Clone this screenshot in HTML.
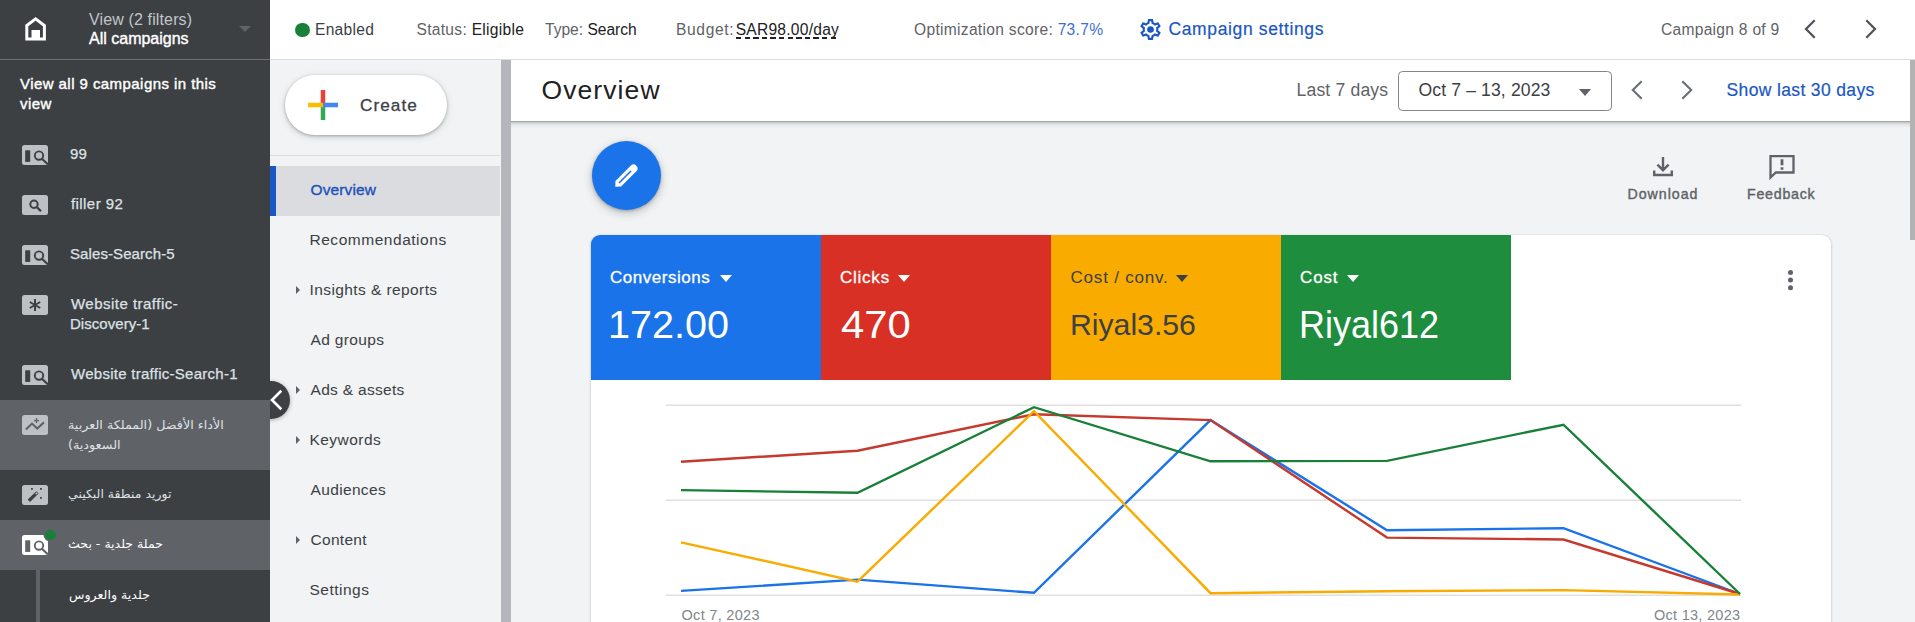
<!DOCTYPE html>
<html lang="en">
<head>
<meta charset="utf-8">
<title>Overview</title>
<style>
*{box-sizing:border-box;margin:0;padding:0}
html,body{width:1915px;height:622px;overflow:hidden;background:#f1f3f4}
body{position:relative;font-family:"Liberation Sans","DejaVu Sans",sans-serif;font-size:14px;color:#3c4043}
.abs{position:absolute}
.t{position:absolute;white-space:nowrap;line-height:20px}
svg.ic{position:absolute;left:22.400px;width:26px;height:20px}
.tri{position:absolute;left:296px;width:0;height:0;border-left:4.5px solid #5f6368;border-top:4px solid transparent;border-bottom:4px solid transparent}
</style>
</head>
<body>

<!-- left dark sidebar -->
<div class="abs" style="left:0;top:0;width:270px;height:622px;background:#3c4043"></div>
<div class="abs" style="left:0;top:59px;width:270px;height:1px;background:#6d7175"></div>
<div class="abs" style="left:0;top:400px;width:270px;height:69.500px;background:#5f6368"></div>
<div class="abs" style="left:0;top:520px;width:270px;height:50px;background:#5f6368"></div>
<div class="abs" style="left:35.800px;top:570px;width:4.200px;height:52px;background:#5f6368"></div>
<svg class="abs" style="left:24px;top:16px" width="24" height="26" viewBox="0 0 24 26"><path d="M2.800 23V9.600L11.600 2.800 20.400 9.600V23Z" fill="none" stroke="#fff" stroke-width="3"/><rect x="7.500" y="14" width="8.500" height="9" fill="#fff"/></svg>
<div class="abs" style="left:239px;top:26px;width:0;height:0;border-top:6px solid #5f6368;border-left:6px solid transparent;border-right:6px solid transparent"></div>
<div class="t" id="s_view" style="left:89.00px;top:10px;font-size:16px;line-height:20px;color:#c1c5c9;letter-spacing:0.133px;">View (2 filters)</div>
<div class="t" id="s_all" style="left:89.00px;top:28.5px;font-size:16px;line-height:20px;color:#fff;letter-spacing:0.000px;-webkit-text-stroke:0.4px #fff;">All campaigns</div>
<div class="t" id="s_va1" style="left:20.00px;top:74px;font-size:15px;line-height:20px;color:#fff;letter-spacing:0.437px;-webkit-text-stroke:0.4px #fff;">View all 9 campaigns in this</div>
<div class="t" id="s_va2" style="left:20.00px;top:94px;font-size:15px;line-height:20px;color:#fff;letter-spacing:0.437px;-webkit-text-stroke:0.4px #fff;">view</div>
<svg class="ic" style="top:145px" viewBox="0 0 26 20"><rect width="26" height="20" rx="2.5" fill="#bdc1c6"/><rect x="3.2" y="5.3" width="5" height="11.6" fill="#3c4043"/><circle cx="17" cy="10.600" r="4.200" fill="none" stroke="#3c4043" stroke-width="1.900"/><path d="M19.900 13.700L25.800 19.200" stroke="#3c4043" stroke-width="2.200"/></svg><div class="t" id="r1" style="left:70.00px;top:144px;font-size:15px;line-height:20px;color:#dfe1e5;letter-spacing:0.200px;-webkit-text-stroke:0.25px #dfe1e5;">99</div>
<svg class="ic" style="top:195px" viewBox="0 0 26 20"><rect width="26" height="20" rx="2.5" fill="#bdc1c6"/><circle cx="12" cy="9.3" r="3.7" fill="none" stroke="#3c4043" stroke-width="2"/><path d="M14.8 12.1L19 16.3" stroke="#3c4043" stroke-width="2.3"/></svg><div class="t" id="r2" style="left:71.00px;top:194px;font-size:15px;line-height:20px;color:#dfe1e5;letter-spacing:0.425px;-webkit-text-stroke:0.25px #dfe1e5;">filler 92</div>
<svg class="ic" style="top:245px" viewBox="0 0 26 20"><rect width="26" height="20" rx="2.5" fill="#bdc1c6"/><rect x="3.2" y="5.3" width="5" height="11.6" fill="#3c4043"/><circle cx="17" cy="10.600" r="4.200" fill="none" stroke="#3c4043" stroke-width="1.900"/><path d="M19.900 13.700L25.800 19.200" stroke="#3c4043" stroke-width="2.200"/></svg><div class="t" id="r3" style="left:70.00px;top:244px;font-size:15px;line-height:20px;color:#dfe1e5;letter-spacing:0.092px;-webkit-text-stroke:0.25px #dfe1e5;">Sales-Search-5</div>
<svg class="ic" style="top:295px" viewBox="0 0 26 20"><rect width="26" height="20" rx="2.5" fill="#bdc1c6"/><path d="M13 4v12M7.8 7l10.4 6M7.8 13l10.400-6" stroke="#3c4043" stroke-width="2" fill="none"/></svg><div class="t" id="r4a" style="left:71.00px;top:294px;font-size:15px;line-height:20px;color:#dfe1e5;letter-spacing:0.480px;-webkit-text-stroke:0.25px #dfe1e5;">Website traffic-</div><div class="t" id="r4b" style="left:70.00px;top:314px;font-size:15px;line-height:20px;color:#dfe1e5;letter-spacing:0.040px;-webkit-text-stroke:0.25px #dfe1e5;">Discovery-1</div>
<svg class="ic" style="top:365px" viewBox="0 0 26 20"><rect width="26" height="20" rx="2.5" fill="#bdc1c6"/><rect x="3.2" y="5.3" width="5" height="11.6" fill="#3c4043"/><circle cx="17" cy="10.600" r="4.200" fill="none" stroke="#3c4043" stroke-width="1.900"/><path d="M19.900 13.700L25.800 19.200" stroke="#3c4043" stroke-width="2.200"/></svg><div class="t" id="r5" style="left:71.00px;top:364px;font-size:15px;line-height:20px;color:#dfe1e5;letter-spacing:0.270px;-webkit-text-stroke:0.25px #dfe1e5;">Website traffic-Search-1</div>
<svg class="ic" style="top:415px" viewBox="0 0 26 20"><rect width="26" height="20" rx="2.5" fill="#bdc1c6"/><path d="M3.900 14.400L10 8.600l5.200 4.900 6.700-6.100" stroke="#5f6368" stroke-width="2.100" fill="none" stroke-linejoin="miter"/><path d="M14.500 3.100v5M12 5.600h5" stroke="#5f6368" stroke-width="1.300"/></svg><div class="t" id="a1" style="left:68.00px;top:414.5px;font-size:12px;line-height:20px;color:#dfe1e5;letter-spacing:0.000px;transform:scaleX(1.0621);transform-origin:0 0;font-family:'DejaVu Sans',sans-serif;direction:rtl;">الأداء الأفضل (المملكة العربية</div><div class="t" id="a2" style="left:68.00px;top:434.5px;font-size:12px;line-height:20px;color:#dfe1e5;letter-spacing:0.000px;transform:scaleX(1.0625);transform-origin:0 0;font-family:'DejaVu Sans',sans-serif;direction:rtl;">السعودية)</div>
<svg class="ic" style="top:485px" viewBox="0 0 26 20"><rect width="26" height="20" rx="2.5" fill="#bdc1c6"/><path d="M6.800 15.700L15.500 7.400" stroke="#3c4043" stroke-width="3.300"/><path d="M13.700 9.100L15.200 7.700" stroke="#bdc1c6" stroke-width="1.500"/><path d="M9 3.800h1.800M18 3.800h1.800M18 12.800h1.800" stroke="#3c4043" stroke-width="1.800"/></svg><div class="t" id="a3" style="left:68.00px;top:484px;font-size:12px;line-height:20px;color:#dfe1e5;letter-spacing:0.000px;transform:scaleX(1.0405);transform-origin:0 0;font-family:'DejaVu Sans',sans-serif;direction:rtl;">توريد منطقة البكيني</div>
<svg class="ic" style="top:535px" viewBox="0 0 26 20"><rect width="26" height="20" rx="2.5" fill="#fff"/><rect x="3.2" y="5.3" width="5" height="11.6" fill="#5f6368"/><circle cx="17" cy="10.600" r="4.200" fill="none" stroke="#5f6368" stroke-width="1.900"/><path d="M19.900 13.700L25.800 19.200" stroke="#5f6368" stroke-width="2.200"/></svg><div class="abs" style="left:45.300px;top:529.700px;width:10.500px;height:10.500px;border-radius:50%;background:#188038;box-shadow:0 0 0 1.500px #5f6368"></div><div class="t" id="a4" style="left:68.00px;top:534px;font-size:12px;line-height:20px;color:#fff;letter-spacing:0.000px;transform:scaleX(1.0446);transform-origin:0 0;font-family:'DejaVu Sans',sans-serif;direction:rtl;">حملة جلدية - بحث</div>
<div class="t" id="a5" style="left:69.00px;top:585px;font-size:12px;line-height:20px;color:#fff;letter-spacing:0.000px;transform:scaleX(1.0526);transform-origin:0 0;font-family:'DejaVu Sans',sans-serif;direction:rtl;">جلدية والعروس</div>

<!-- top bar -->
<div class="abs" style="left:270px;top:0;width:1645px;height:60px;background:#fff;border-bottom:1px solid #dadce0"></div>
<div class="abs" style="left:295px;top:22.500px;width:14.500px;height:14.500px;border-radius:50%;background:#188038"></div>
<div class="t" id="tb1" style="left:315.00px;top:19.5px;font-size:15.6px;line-height:20px;color:#3c4043;letter-spacing:0.267px;">Enabled</div>
<div class="t" id="tb2" style="left:416.50px;top:19.5px;font-size:15.6px;line-height:20px;color:#5f6368;letter-spacing:0.280px;">Status: <span style="color:#202124">Eligible</span></div>
<div class="t" id="tb3" style="left:545.00px;top:19.5px;font-size:15.6px;line-height:20px;color:#5f6368;letter-spacing:-0.018px;">Type: <span style="color:#202124">Search</span></div>
<div class="t" id="tb4" style="left:676.00px;top:19.5px;font-size:15.6px;line-height:20px;color:#5f6368;letter-spacing:0.633px;">Budget:</div>
<div class="t" id="tb4b" style="left:735.70px;top:19.5px;font-size:15.6px;line-height:20px;color:#202124;letter-spacing:0.236px;">SAR98.00/day</div>
<div class="abs" style="left:736px;top:37.300px;width:103px;height:1.500px;background:repeating-linear-gradient(90deg,#202124 0,#202124 5.400px,transparent 5.400px,transparent 8.600px)"></div>
<div class="t" id="tb5" style="left:914.00px;top:19.5px;font-size:15.6px;line-height:20px;color:#5f6368;letter-spacing:0.292px;">Optimization score: <span style="color:#3d6fd0">73.7%</span></div>
<svg class="abs" style="left:1137.800px;top:16.800px" width="25" height="25" viewBox="0 0 24 24"><path fill="#1a56c4" d="M19.430 12.980c.040-.320.070-.640.070-.980s-.030-.660-.070-.980l2.110-1.650c.190-.150.240-.420.120-.640l-2-3.460c-.120-.220-.390-.300-.610-.220l-2.490 1c-.520-.400-1.080-.730-1.690-.980l-.380-2.650C14.460 2.180 14.250 2 14 2h-4c-.250 0-.460.180-.490.420l-.380 2.650c-.610.250-1.170.590-1.690.980l-2.490-1c-.230-.090-.490 0-.610.220l-2 3.460c-.130.220-.070.490.120.640l2.110 1.650c-.040.320-.070.650-.070.980s.030.660.070.980l-2.110 1.650c-.190.150-.240.420-.120.640l2 3.460c.120.220.390.300.610.220l2.490-1c.520.400 1.080.730 1.690.980l.380 2.650c.030.240.240.420.490.420h4c.250 0 .460-.180.490-.420l.380-2.650c.610-.250 1.170-.590 1.690-.980l2.490 1c.230.090.490 0 .610-.220l2-3.460c.120-.220.070-.490-.120-.640l-2.110-1.650zm-1.980-1.710c.040.310.050.520.050.730s-.020.430-.050.730l-.140 1.130.890.700 1.080.840-.700 1.210-1.270-.510-1.040-.420-.900.680c-.430.320-.840.560-1.250.730l-1.060.430-.160 1.130-.200 1.350h-1.400l-.190-1.350-.160-1.130-1.060-.430c-.430-.180-.830-.410-1.230-.710l-.910-.700-1.060.430-1.270.510-.700-1.210 1.080-.840.890-.700-.140-1.130c-.030-.310-.050-.540-.050-.740s.020-.430.050-.730l.140-1.130-.890-.700-1.080-.840.700-1.210 1.270.510 1.040.420.900-.680c.430-.320.840-.560 1.250-.730l1.060-.430.160-1.130.200-1.350h1.390l.190 1.350.160 1.130 1.060.430c.430.180.830.410 1.230.710l.910.700 1.060-.430 1.270-.510.700 1.210-1.070.850-.890.700.140 1.130z"/><circle cx="12" cy="12" r="3.200" fill="#1a56c4"/></svg>
<div class="t" id="tb6" style="left:1168.50px;top:19px;font-size:17.5px;line-height:20px;color:#1a56c4;letter-spacing:0.625px;-webkit-text-stroke:0.2px #1a56c4;">Campaign settings</div>
<div class="t" id="tb7" style="left:1661.00px;top:19.5px;font-size:15.6px;line-height:20px;color:#5f6368;letter-spacing:0.271px;">Campaign 8 of 9</div>
<svg class="abs" style="left:1802px;top:18px" width="16" height="22" viewBox="0 0 16 22"><path d="M12.700 2.200L4 11l8.700 8.800" fill="none" stroke="#50545a" stroke-width="2.300"/></svg>
<svg class="abs" style="left:1863px;top:18px" width="16" height="22" viewBox="0 0 16 22"><path d="M3.300 2.200L12 11l-8.700 8.800" fill="none" stroke="#50545a" stroke-width="2.300"/></svg>

<!-- second nav -->
<div class="abs" style="left:270px;top:60px;width:230px;height:562px;background:#f1f3f4"></div>
<div class="abs" style="left:284.500px;top:75px;width:162.500px;height:59.500px;border-radius:30px;background:#fff;box-shadow:0 1px 3px rgba(60,64,67,.35),0 2px 7px rgba(60,64,67,.18)"></div>
<svg class="abs" style="left:307.500px;top:90.300px" width="30" height="30" viewBox="0 0 30 30"><rect x="12.750" y="0" width="4.500" height="15" fill="#ea4335"/><rect x="12.750" y="15" width="4.500" height="15" fill="#34a853"/><rect x="0" y="12.750" width="15" height="4.500" fill="#fbbc04"/><rect x="15" y="12.750" width="15" height="4.500" fill="#4285f4"/></svg>
<div class="t" id="cr" style="left:360.00px;top:94.8px;font-size:17.2px;line-height:20px;color:#3c4043;letter-spacing:1.040px;-webkit-text-stroke:0.3px #3c4043;">Create</div>
<div class="abs" style="left:270px;top:155px;width:230px;height:1px;background:#dadce0"></div>
<div class="abs" style="left:270px;top:166px;width:230px;height:50px;background:#dadce0"></div>
<div class="abs" style="left:270px;top:166px;width:5.500px;height:50px;background:#1a56c4"></div>
<div class="t" id="n1" style="left:310.50px;top:180.4px;font-size:15.5px;line-height:20px;color:#1e50b8;letter-spacing:0.114px;-webkit-text-stroke:0.35px #1e50b8;">Overview</div>
<div class="t" id="n2" style="left:309.50px;top:230.4px;font-size:15.5px;line-height:20px;color:#3c4043;letter-spacing:0.529px;">Recommendations</div>
<div class="tri" style="top:286px"></div><div class="t" id="n3" style="left:309.50px;top:280.4px;font-size:15.5px;line-height:20px;color:#3c4043;letter-spacing:0.412px;">Insights &amp; reports</div>
<div class="t" id="n4" style="left:310.50px;top:330.4px;font-size:15.5px;line-height:20px;color:#3c4043;letter-spacing:0.350px;">Ad groups</div>
<div class="tri" style="top:386px"></div><div class="t" id="n5" style="left:310.50px;top:380.4px;font-size:15.5px;line-height:20px;color:#3c4043;letter-spacing:0.309px;">Ads &amp; assets</div>
<div class="tri" style="top:436px"></div><div class="t" id="n6" style="left:309.50px;top:430.4px;font-size:15.5px;line-height:20px;color:#3c4043;letter-spacing:0.457px;">Keywords</div>
<div class="t" id="n7" style="left:310.50px;top:480.4px;font-size:15.5px;line-height:20px;color:#3c4043;letter-spacing:0.350px;">Audiences</div>
<div class="tri" style="top:536px"></div><div class="t" id="n8" style="left:310.50px;top:530.4px;font-size:15.5px;line-height:20px;color:#3c4043;letter-spacing:0.300px;">Content</div>
<div class="t" id="n9" style="left:309.50px;top:580.4px;font-size:15.5px;line-height:20px;color:#3c4043;letter-spacing:0.486px;">Settings</div>
<div class="abs" style="left:500.500px;top:60px;width:10.500px;height:562px;background:#b3b6ba"></div>
<div class="abs" style="left:251px;top:380.500px;width:38.500px;height:38.500px;border-radius:50%;background:#3c4043;clip-path:inset(-10px -10px -10px 19px);box-shadow:0 1px 4px rgba(0,0,0,.3)"></div>
<svg class="abs" style="left:268px;top:388px" width="18" height="24" viewBox="0 0 18 24"><path d="M13.300 2.800L4 12l9.300 9.200" fill="none" stroke="#fff" stroke-width="2.700"/></svg>

<!-- main -->
<div class="abs" style="left:511px;top:60px;width:1399px;height:61px;background:#fff"></div>
<div class="abs" style="left:511px;top:121px;width:1399px;height:7px;background:linear-gradient(rgba(0,0,0,.4),rgba(0,0,0,.16) 22%,rgba(0,0,0,.05) 55%,rgba(0,0,0,0))"></div>
<div class="t" id="h1" style="left:541.50px;top:73px;font-size:26.5px;line-height:34px;color:#202124;letter-spacing:1.086px;">Overview</div>
<div class="t" id="h2" style="left:1296.50px;top:80px;font-size:17.6px;line-height:20px;color:#5f6368;letter-spacing:0.160px;">Last 7 days</div>
<div class="abs" style="left:1398px;top:71px;width:214px;height:40px;border:1px solid #80868b;border-radius:4.500px"></div>
<div class="t" id="h3" style="left:1418.50px;top:80px;font-size:17.6px;line-height:20px;color:#3c4043;letter-spacing:0.120px;">Oct 7 – 13, 2023</div>
<div class="abs" style="left:1579px;top:88.500px;width:0;height:0;border-top:7px solid #5f6368;border-left:6.500px solid transparent;border-right:6.500px solid transparent"></div>
<svg class="abs" style="left:1629px;top:79px" width="16" height="22" viewBox="0 0 16 22"><path d="M12.700 2.200L3.800 11l8.900 8.800" fill="none" stroke="#6a6e73" stroke-width="2.100"/></svg>
<svg class="abs" style="left:1679px;top:79px" width="16" height="22" viewBox="0 0 16 22"><path d="M3.300 2.200L12.200 11l-8.900 8.800" fill="none" stroke="#6a6e73" stroke-width="2.100"/></svg>
<div class="t" id="h4" style="left:1726.50px;top:80px;font-size:17.5px;line-height:20px;color:#1a56c4;letter-spacing:0.363px;-webkit-text-stroke:0.2px #1a56c4;">Show last 30 days</div>
<div class="abs" style="left:1910px;top:60px;width:5px;height:180px;background:#b3b3b3"></div>

<div class="abs" style="left:591.500px;top:140.700px;width:69.500px;height:69.500px;border-radius:50%;background:#1a73e8;box-shadow:0 3px 8px rgba(60,64,67,.3),0 1px 3px rgba(60,64,67,.3)"></div>
<svg class="abs" style="left:606.800px;top:159.200px" width="36" height="36" viewBox="0 0 36 36"><g transform="rotate(45 18 18)"><path d="M14 6a4 4 0 0 1 8 0V27.500l-4 4.200-4-4.200Z" fill="#fff"/><path d="M18 9.500v17" stroke="#1a73e8" stroke-width="1.600"/></g></svg>
<svg class="abs" style="left:1651px;top:155px" width="24" height="24" viewBox="0 0 24 24"><path d="M12 2v13M6.400 9.600L12 15.200l5.600-5.600M3.200 15.500v4.500h17.600v-4.500" fill="none" stroke="#5f6368" stroke-width="2.400"/></svg>
<div class="t" id="d1" style="left:1627.50px;top:184px;font-size:14.2px;line-height:20px;color:#5f6368;letter-spacing:0.971px;-webkit-text-stroke:0.4px #5f6368;">Download</div>
<svg class="abs" style="left:1768px;top:153px" width="28" height="28" viewBox="0 0 28 28"><path d="M2.500 3.200h23v16.300H7.800L2.500 24.500Z" fill="none" stroke="#5f6368" stroke-width="2.300"/><path d="M14 6.300v6M14 14.200v2.600" stroke="#5f6368" stroke-width="2.800"/></svg>
<div class="t" id="d2" style="left:1747.00px;top:184px;font-size:14.2px;line-height:20px;color:#5f6368;letter-spacing:0.771px;-webkit-text-stroke:0.4px #5f6368;">Feedback</div>

<!-- scorecard -->
<div class="abs" style="left:591px;top:235px;width:1240px;height:400px;background:#fff;border-radius:9px 9px 0 0;box-shadow:0 1px 3px rgba(60,64,67,.28),0 0 1px rgba(60,64,67,.2);overflow:hidden">
  <div class="abs" style="left:0;top:0;width:230px;height:144.700px;background:#1a73e8"></div>
  <div class="abs" style="left:229.600px;top:0;width:230.400px;height:144.700px;background:#d93025"></div>
  <div class="abs" style="left:459.600px;top:0;width:230.400px;height:144.700px;background:#f9ab00"></div>
  <div class="abs" style="left:689.600px;top:0;width:230.400px;height:144.700px;background:#1e8e3e"></div>
</div>
<div class="t" id="k1" style="left:610.00px;top:267px;font-size:17px;line-height:22px;color:#fff;letter-spacing:0.520px;-webkit-text-stroke:0.3px #fff;">Conversions</div><div class="abs" style="left:719.6px;top:275.1px;width:0;height:0;border-top:7px solid #fff;border-left:6px solid transparent;border-right:6px solid transparent"></div><div class="t" id="v1" style="left:608.10px;top:301px;font-size:38px;line-height:48px;color:#fff;letter-spacing:0.000px;transform:scaleX(1.0411);transform-origin:0 0;">172.00</div>
<div class="t" id="k2" style="left:840.00px;top:267px;font-size:17px;line-height:22px;color:#fff;letter-spacing:0.760px;-webkit-text-stroke:0.3px #fff;">Clicks</div><div class="abs" style="left:897.5px;top:275.1px;width:0;height:0;border-top:7px solid #fff;border-left:6px solid transparent;border-right:6px solid transparent"></div><div class="t" id="v2" style="left:841.30px;top:301px;font-size:38px;line-height:48px;color:#fff;letter-spacing:0.000px;transform:scaleX(1.1018);transform-origin:0 0;">470</div>
<div class="t" id="k3" style="left:1070.50px;top:267px;font-size:17px;line-height:22px;color:#3c4043;letter-spacing:0.800px;">Cost / conv.</div><div class="abs" style="left:1176px;top:275.1px;width:0;height:0;border-top:7px solid #3c4043;border-left:6px solid transparent;border-right:6px solid transparent"></div><div class="t" id="v3" style="left:1070.20px;top:301px;font-size:29.5px;line-height:48px;color:#3c4043;letter-spacing:0.000px;transform:scaleX(1.0234);transform-origin:0 0;">Riyal3.56</div>
<div class="t" id="k4" style="left:1300.00px;top:267px;font-size:17px;line-height:22px;color:#fff;letter-spacing:0.867px;-webkit-text-stroke:0.3px #fff;">Cost</div><div class="abs" style="left:1346.8px;top:275.1px;width:0;height:0;border-top:7px solid #fff;border-left:6px solid transparent;border-right:6px solid transparent"></div><div class="t" id="v4" style="left:1299.20px;top:301px;font-size:38px;line-height:48px;color:#fff;letter-spacing:0.000px;transform:scaleX(0.9473);transform-origin:0 0;">Riyal612</div>
<div class="abs" style="left:1788.200px;top:269.800px;width:5px;height:5px;border-radius:50%;background:#5f6368;box-shadow:0 7.600px 0 #5f6368,0 15.200px 0 #5f6368"></div>
<svg class="abs" style="left:0;top:0" width="1915" height="622" viewBox="0 0 1915 622">
<path d="M666 405.300H1741M666 500.300H1741M666 595.300H1741" stroke="#e0e0e0" stroke-width="1.600"/>
<polyline points="681.0,590.9 857.5,579.6 1034.0,592.8 1210.5,420.1 1387.0,530.2 1563.5,528.2 1740.0,594.0" fill="none" stroke="#1a73e8" stroke-width="2.4" stroke-linejoin="miter"/>
<polyline points="681.0,461.7 857.5,450.8 1034.0,414.2 1210.5,420.1 1387.0,537.6 1563.5,539.5 1740.0,594.0" fill="none" stroke="#c5392f" stroke-width="2.4" stroke-linejoin="miter"/>
<polyline points="681.0,542.3 857.5,581.6 1034.0,411.1 1210.5,593.2 1387.0,591.3 1563.5,590.1 1740.0,594.5" fill="none" stroke="#f9ab00" stroke-width="2.4" stroke-linejoin="miter"/>
<polyline points="681.0,490.1 857.5,492.8 1034.0,407.2 1210.5,461.3 1387.0,460.9 1563.5,424.7 1740.0,594.0" fill="none" stroke="#188038" stroke-width="2.4" stroke-linejoin="miter"/>
</svg>
<div class="t" id="x1" style="left:681.50px;top:604.5px;font-size:14.5px;line-height:20px;color:#80868b;letter-spacing:0.300px;">Oct 7, 2023</div>
<div class="t" id="x2" style="left:1654.00px;top:604.5px;font-size:14.5px;line-height:20px;color:#80868b;letter-spacing:0.273px;">Oct 13, 2023</div>

</body>
</html>
